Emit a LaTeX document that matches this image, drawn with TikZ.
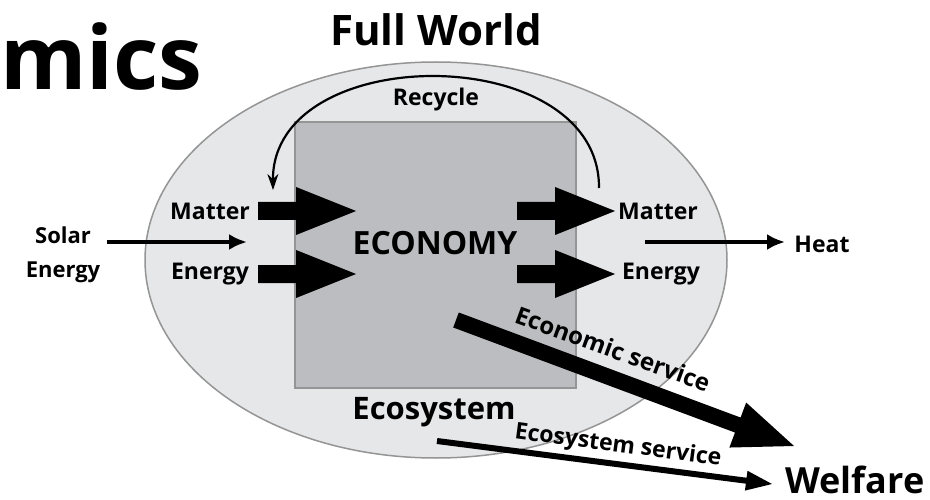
\documentclass[tikz,border=0pt]{standalone}
\usepackage{fontspec}
\setmainfont{Open Sans}
\usetikzlibrary{calc,arrows.meta}
\definecolor{world}{HTML}{E6E7E8}
\definecolor{econ}{HTML}{BCBDC0}
\definecolor{edge}{HTML}{959595}
\newcommand{\blockarr}[5]{%
  \coordinate (hb) at ($(#2)!#4!(#1)$);
  \fill ($(#1)!#3!90:(#2)$) -- ($(hb)!#3!90:(#2)$) -- ($(hb)!#5!90:(#2)$) -- (#2)
        -- ($(hb)!#5!-90:(#2)$) -- ($(hb)!#3!-90:(#2)$) -- ($(#1)!#3!-90:(#2)$) -- cycle;}
\tikzset{
  lbl/.style={inner sep=0pt, font=\bfseries\fontsize{23}{26}\selectfont},
  thin arrow/.style={line width=3.5pt, -{Latex[length=18pt,width=16pt]}},
}
\begin{document}
\begin{tikzpicture}[x=1pt,y=-1pt]
\useasboundingbox (0,0) rectangle (930,500);
\fill[white] (0,0) rectangle (930,500);
% title pieces
\node[anchor=base west, inner sep=0pt, font=\bfseries\fontsize{88}{88}\selectfont] (mics) at (0,90) {mics};
\node[inner sep=0pt, font=\bfseries\fontsize{42}{44}\selectfont] (full) at (436,30) {Full World};
% world ellipse and economy box
\draw[edge, line width=1.5pt, fill=world] (436,260) ellipse [x radius=291pt, y radius=198pt];
\node[draw=edge, line width=2pt, fill=econ, minimum width=281pt, minimum height=266pt, inner sep=0pt] (econ) at (435.5,255) {};
\node[inner sep=0pt, font=\bfseries\fontsize{32}{34}\selectfont] (economy) at (435,243) {ECONOMY};
\node[inner sep=0pt, font=\fontsize{31}{33}\selectfont\bfseries] (eco) at (434,412) {Ecosystem};
% recycle
\node[inner sep=0pt, font=\bfseries\fontsize{23}{25}\selectfont] (recycle) at (436,100) {Recycle};
\coordinate (rs) at (599,188);
\coordinate (re) at (273,190);
\draw[line width=2.2pt, -{Stealth[length=16pt,width=11pt]}] (rs) .. controls (600,40) and (272,40) .. (re);
% labels
\node[lbl] (ml) at (210,211) {Matter};
\node[lbl] (el) at (210,274) {Energy};
\node[lbl] (mr) at (658,211) {Matter};
\node[lbl] (er) at (661,274) {Energy};
\node[lbl, align=center, font=\bfseries\fontsize{22}{34}\selectfont] (solar) at (63,255) {Solar\\Energy};
\node[lbl] (heat) at (822,244) {Heat};
\node[anchor=base, inner sep=0pt, font=\bfseries\fontsize{36}{38}\selectfont] (welfare) at (855,493) {Welfare};
% block arrows
\coordinate (a1s) at (258,211); \coordinate (a1e) at (356,211);
\coordinate (a2s) at (258,274); \coordinate (a2e) at (356,274);
\coordinate (a3s) at (517,211); \coordinate (a3e) at (615,211);
\coordinate (a4s) at (517,274); \coordinate (a4e) at (615,274);
\blockarr{a1s}{a1e}{9pt}{60pt}{24pt}
\blockarr{a2s}{a2e}{9pt}{60pt}{24pt}
\blockarr{a3s}{a3e}{9pt}{60pt}{24pt}
\blockarr{a4s}{a4e}{9pt}{60pt}{24pt}
% thin arrows
\coordinate (ss) at (107,242); \coordinate (se) at (247,242);
\coordinate (hs) at (645,242); \coordinate (he) at (785,242);
\draw[thin arrow] (ss) -- (se);
\draw[thin arrow] (hs) -- (he);
% service arrows
\coordinate (ecs) at (456,320); \coordinate (ece) at (794,446);
\blockarr{ecs}{ece}{8pt}{60pt}{24pt}
\coordinate (sys) at (437,441); \coordinate (sye) at (772,484);
\blockarr{sys}{sye}{3pt}{26pt}{10pt}
\node[lbl, font=\bfseries\fontsize{24}{26}\selectfont, rotate=-20] (ecsl) at (613,349) {Economic service};
\node[lbl, font=\bfseries\fontsize{23}{25}\selectfont, rotate=-7.5] (sysl) at (618,446) {Ecosystem service};
\end{tikzpicture}
\end{document}
